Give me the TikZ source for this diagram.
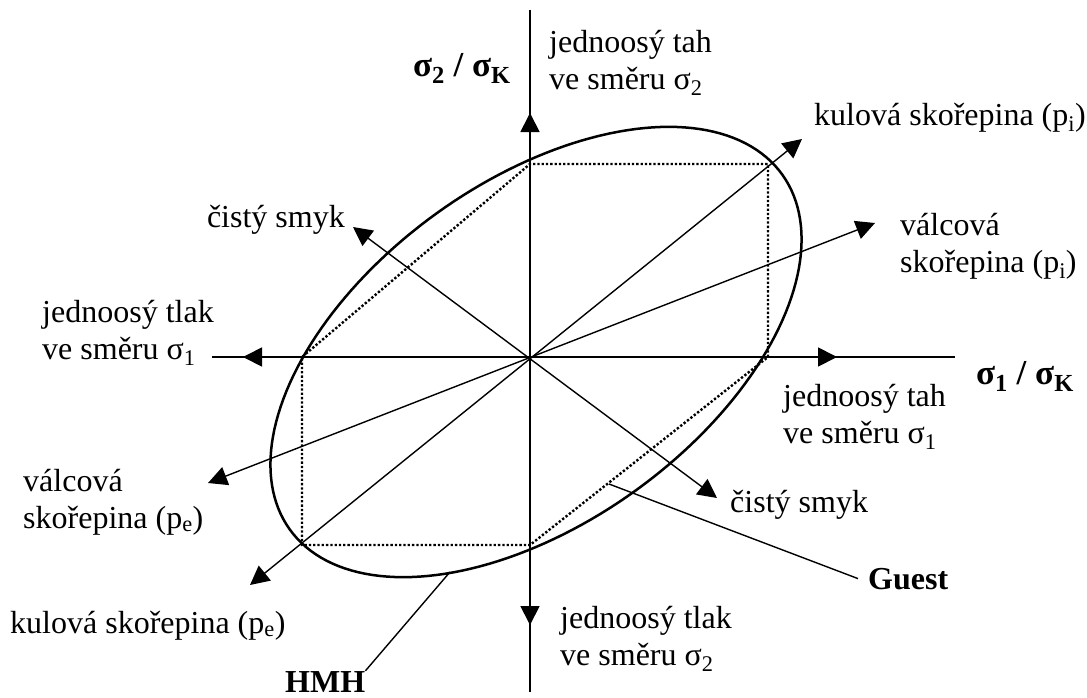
\documentclass[tikz,border=0pt]{standalone}
\usepackage{fontspec}
\setmainfont{Liberation Serif}
\usetikzlibrary{arrows.meta}
\newcommand{\lowsub}[1]{\textsubscript{#1}}
\begin{document}
\begin{tikzpicture}[x=1pt,y=-1pt,
  lbl/.style={anchor=base west, inner sep=0pt, align=left, font=\fontsize{32}{37}\selectfont},
  boldlbl/.style={lbl, font=\fontsize{32}{37}\selectfont\bfseries},
  axislbl/.style={lbl, font=\fontsize{35}{40}\selectfont\bfseries},
  axisline/.style={line width=1.8pt},
  tipend/.style={-{Triangle[length=19pt,width=19pt]}},
  bothtips/.style={{Triangle[length=19pt,width=19pt]}-{Triangle[length=19pt,width=19pt]}},
  rayline/.style={line width=1.4pt},
  hexline/.style={line width=2.4pt, dash pattern=on 2.3pt off 2pt},
  ellline/.style={line width=2.5pt, line join=round},
  leader/.style={line width=1.4pt}]
\useasboundingbox (0,0) rectangle (1087,697);

% coordinates
\coordinate (O) at (530,357);
\coordinate (Lend) at (212,357);
\coordinate (Ltip) at (243,357);
\coordinate (Rtip) at (837,357);
\coordinate (Rend) at (955,357);
\coordinate (Tend) at (530,10);
\coordinate (Ttip) at (530,113);
\coordinate (Btip) at (530,625);
\coordinate (Bend) at (530,692);
\coordinate (kpe) at (250,585);
\coordinate (kpi) at (802,139);
\coordinate (vpe) at (208,483);
\coordinate (vpi) at (875,223);
\coordinate (csu) at (353,227);
\coordinate (csl) at (717,498);
\coordinate (h1) at (530,164);
\coordinate (h2) at (768,164);
\coordinate (h3) at (768,357);
\coordinate (h4) at (530,545);
\coordinate (h5) at (302,545);
\coordinate (h6) at (302,357);
\coordinate (hmhpt) at (450,572);
\coordinate (guestpt) at (609,484);

% Tresca hexagon (dotted)
\draw[hexline] (h3) -- (h2) -- (h1) -- (h6) -- (h5) -- (h4) -- (h3);

% von Mises ellipse
\draw[ellline] plot[domain=0:360, samples=181]
  ({536+230*(cos(\x)-0.57735*sin(\x))},{352-195*(cos(\x)+0.57735*sin(\x))}) -- cycle;

% axes
\draw[axisline] (Lend) -- (Rend);
\draw[axisline] (Tend) -- (Bend);
\draw[axisline,tipend] (O) -- (Ltip);
\draw[axisline,tipend] (O) -- (Rtip);
\draw[axisline,tipend] (O) -- (Ttip);
\draw[axisline,tipend] (O) -- (Btip);

% load rays
\draw[rayline,bothtips] (kpe) -- (kpi);
\draw[rayline,bothtips] (vpe) -- (vpi);
\draw[rayline,bothtips] (csu) -- (csl);

% labels (multi-line nodes: base anchor = last line baseline)
\node[lbl] (tahTop) at (549,89) {jednoosý tah\\ve směru σ\lowsub{2}};
\node[axislbl,anchor=base east] (ax2) at (511,76) {σ\lowsub{2} / σ\lowsub{K}};
\node[lbl] (kpiL) at (814,125) {kulová skořepina (p\lowsub{i})};
\node[lbl,anchor=base east] (csuL) at (345,227) {čistý smyk};
\node[lbl] (vpiL) at (900,272) {válcová\\skořepina (p\lowsub{i})};
\node[lbl] (tlak1) at (42,359) {jednoosý tlak\\ve směru σ\lowsub{1}};
\node[axislbl] (ax1) at (976,384) {σ\lowsub{1} / σ\lowsub{K}};
\node[lbl] (tah1) at (783,443) {jednoosý tah\\ve směru σ\lowsub{1}};
\node[lbl] (cslL) at (730,512) {čistý smyk};
\node[lbl] (vpeL) at (23,528) {válcová\\skořepina (p\lowsub{e})};
\node[boldlbl] (guest) at (868,589) {Guest};
\node[lbl] (kpeL) at (10,633) {kulová skořepina (p\lowsub{e})};
\node[lbl] (tlak2) at (560,665) {jednoosý tlak\\ve směru σ\lowsub{2}};
\node[boldlbl] (hmh) at (285,692) {HMH};

% leaders
\draw[leader] (hmhpt) -- (hmh.north east);
\draw[leader] (guestpt) -- ([xshift=-10pt]guest.west);
\end{tikzpicture}
\end{document}
